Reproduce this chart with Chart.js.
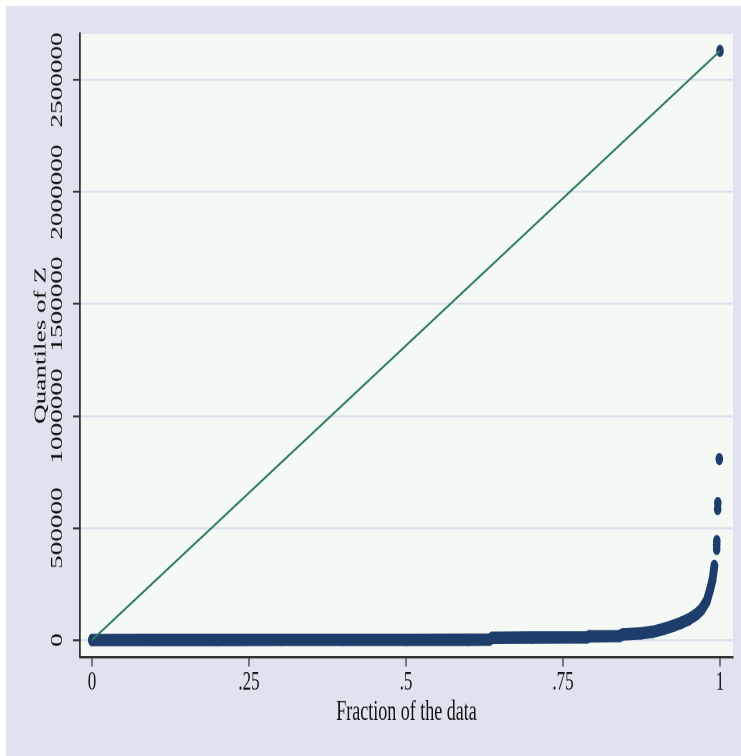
<!DOCTYPE html>
<html>
<head>
<meta charset="utf-8">
<script src="https://cdn.jsdelivr.net/npm/chart.js@4.4.1/dist/chart.umd.min.js"></script>
<style>
  html, body { margin: 0; padding: 0; background: #ffffff; width: 741px; height: 756px; overflow: hidden; }
  #wrap { position: absolute; left: 6px; top: 6px; width: 735px; height: 469px;
          transform-origin: 0 0; transform: scale(1, 1.5991); }
</style>
</head>
<body>
<div id="wrap"><canvas id="c" width="735" height="469"></canvas></div>
<script>
// ---- data ----
const bandFrac  = [0, 0.1, 0.2, 0.3, 0.4, 0.5, 0.6, 0.633, 0.637, 0.7, 0.788, 0.792, 0.84, 0.845, 0.875, 0.893, 0.911, 0.927, 0.939, 0.951, 0.963, 0.971, 0.979, 0.984, 0.988, 0.991];
const bandQuant = [0, 300, 500, 700, 900, 1100, 1300, 1500, 10000, 11000, 12000, 16500, 18000, 25000, 30000, 37000, 50000, 65000, 78000, 94000, 116000, 138000, 175000, 223000, 268000, 330000];
const tailFrac  = [0.9947, 0.9947, 0.9949, 0.9963, 0.9965, 0.9989, 1];
const tailQuant = [406000, 424000, 442000, 585000, 612000, 808000, 2630000];
const refFrac   = [0, 1];
const refQuant  = [0, 2630000];
const yTicks = [0, 500000, 1000000, 1500000, 2000000, 2500000];
const xTicks = [0, 0.25, 0.5, 0.75, 1];
const xTickLabels = ['0', '.25', '.5', '.75', '1'];
const xTitle = 'Fraction of the data';
const yTitle = 'Quantiles of Z';

const pts = (xs, ys) => xs.map((x, i) => ({ x: x, y: ys[i] }));

const NAVY = '#1e3d6b';
const GREEN = '#2a7b62';
const SERIF = "'Liberation Serif', 'DejaVu Serif', serif";

const bgPlugin = {
  id: 'bg',
  beforeDraw(chart) {
    const { ctx, chartArea: a } = chart;
    ctx.save();
    ctx.fillStyle = '#e0e3ef';
    ctx.fillRect(0, 0, chart.width, chart.height);
    ctx.fillStyle = '#f4f9f6';
    ctx.fillRect(a.left, a.top, a.right - a.left, a.bottom - a.top);
    ctx.restore();
  }
};

new Chart(document.getElementById('c'), {
  type: 'scatter',
  data: {
    datasets: [
      { data: pts(refFrac, refQuant), showLine: true, borderColor: GREEN, borderWidth: 1.4,
        pointRadius: 0, fill: false },
      { data: pts(bandFrac, bandQuant), showLine: true, borderColor: NAVY, borderWidth: 7.8,
        borderCapStyle: 'round', borderJoinStyle: 'round',
        pointRadius: 3.9, pointBorderWidth: 0, pointBackgroundColor: NAVY, fill: false },
      { data: pts(tailFrac, tailQuant), showLine: false,
        pointRadius: 3.8, pointBorderWidth: 0, pointBackgroundColor: NAVY, backgroundColor: NAVY }
    ]
  },
  options: {
    responsive: false,
    devicePixelRatio: 2,
    animation: false,
    layout: { padding: { top: 17.5, right: 8, left: 0, bottom: 0 } },
    plugins: { legend: { display: false }, tooltip: { enabled: false } },
    scales: {
      x: {
        type: 'linear', position: 'bottom', min: -0.0191, max: 1.0207,
        afterBuildTicks: s => { s.ticks = xTicks.map(v => ({ value: v })); },
        afterFit: s => { s.height = 62; },
        grid: { drawOnChartArea: false, tickLength: 6, tickColor: '#333', tickWidth: 1.2 },
        border: { color: '#333', width: 1.5 },
        ticks: { padding: 0, autoSkip: false, maxRotation: 0, color: '#111',
                 font: { family: SERIF, size: 17 },
                 callback: v => { const i = xTicks.indexOf(v); return i >= 0 ? xTickLabels[i] : ''; } },
        title: { display: true, text: xTitle, color: '#111', font: { family: SERIF, size: 18 },
                 padding: { top: 0, bottom: 16.6 } }
      },
      y: {
        type: 'linear', position: 'left', min: -75000, max: 2705600,
        afterBuildTicks: s => { s.ticks = yTicks.map(v => ({ value: v })); },
        afterFit: s => { s.width = 74; },
        grid: { color: '#dce0ee', lineWidth: 1.3, tickColor: '#333', tickLength: 7, tickWidth: 1.2 },
        border: { color: '#333', width: 1.8 },
        ticks: { minRotation: 90, maxRotation: 90, crossAlign: 'center', padding: -14.25,
                 autoSkip: false, color: '#111', font: { family: SERIF, size: 17 },
                 callback: v => String(v) },
        title: { display: true, text: yTitle, color: '#111', font: { family: SERIF, size: 17 },
                 padding: { top: 25, bottom: 0 } }
      }
    }
  },
  plugins: [bgPlugin]
});
</script>
</body>
</html>
